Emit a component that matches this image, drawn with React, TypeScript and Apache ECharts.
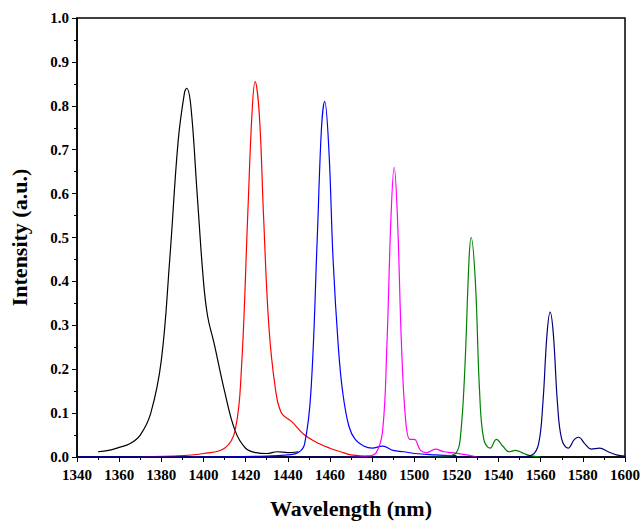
import { useEffect, useRef } from "react";
import * as echarts from "echarts";

const black = [[1350,0.012],[1355,0.015],[1360,0.022],[1365,0.03],[1370,0.05],[1375,0.1],[1380,0.22],[1384,0.45],[1388,0.72],[1391,0.83],[1392,0.84],[1394,0.8],[1397,0.6],[1400,0.4],[1402,0.32],[1405,0.26],[1410,0.15],[1415,0.06],[1420,0.02],[1425,0.01],[1430,0.008],[1435,0.012],[1440,0.01],[1445,0.012]];
const red = [[1370,0],[1390,0.003],[1400,0.008],[1410,0.02],[1415,0.06],[1418,0.2],[1421,0.55],[1423,0.78],[1424.5,0.855],[1426.5,0.78],[1428.5,0.55],[1431,0.3],[1434,0.16],[1437,0.1],[1442,0.08],[1448,0.05],[1455,0.03],[1460,0.02],[1465,0.012],[1470,0.005],[1480,0.002]];
const blue = [[1340,0],[1400,0],[1430,0.002],[1440,0.005],[1445,0.01],[1448,0.03],[1451,0.15],[1454,0.5],[1456,0.75],[1457.5,0.81],[1459.5,0.7],[1461.5,0.45],[1464,0.25],[1466,0.15],[1469,0.07],[1472,0.04],[1476,0.025],[1480,0.02],[1485,0.025],[1490,0.015],[1495,0.012],[1500,0.008],[1510,0.005],[1520,0.003]];
const magenta = [[1470,0],[1478,0.002],[1482,0.01],[1485,0.06],[1487,0.25],[1489,0.55],[1490.5,0.66],[1492,0.55],[1494,0.25],[1496,0.08],[1498,0.04],[1500,0.04],[1503,0.015],[1506,0.01],[1510,0.018],[1514,0.012],[1518,0.01],[1525,0.005],[1530,0]];
const green = [[1505,0],[1515,0.002],[1520,0.01],[1522,0.05],[1524,0.2],[1526,0.45],[1527,0.5],[1529,0.4],[1531,0.15],[1533,0.04],[1536,0.02],[1539,0.04],[1542,0.025],[1545,0.012],[1548,0.015],[1552,0.008],[1555,0.003],[1560,0]];
const navy = [[1340,0],[1550,0],[1556,0.005],[1559,0.03],[1561,0.12],[1563,0.28],[1564.5,0.33],[1566,0.28],[1568,0.12],[1570,0.04],[1573,0.02],[1576,0.04],[1578,0.045],[1581,0.03],[1584,0.018],[1588,0.02],[1592,0.012],[1596,0.005],[1600,0.002]];

const curves = [
  { data: black, color: "#000000" },
  { data: red, color: "#ff0000" },
  { data: blue, color: "#0000ff" },
  { data: magenta, color: "#ff00ff" },
  { data: green, color: "#008000" },
  { data: navy, color: "#000080" },
];

const font = "'Liberation Serif', 'Times New Roman', serif";

export default function App() {
  const chartRef = useRef<HTMLDivElement>(null);

  useEffect(() => {
    document.body.style.margin = "0";
    if (!chartRef.current) return;
    const chart = echarts.init(chartRef.current, undefined, { renderer: "svg" });
    const label = { color: "#000", fontFamily: font, fontWeight: "bold", fontSize: 15 };
    const line = { show: true, onZero: false, lineStyle: { color: "#000", width: 1.5 } };
    chart.setOption({
      animation: false,
      grid: { left: 73, right: 19, top: 18, bottom: 67, show: true, borderColor: "#000", borderWidth: 1.5 },
      xAxis: {
        type: "value", min: 1340, max: 1600, interval: 20,
        name: "Wavelength (nm)", nameLocation: "middle", nameGap: 40,
        nameTextStyle: { ...label, fontSize: 22 },
        axisLine: line, axisTick: { lineStyle: { color: "#000" }, length: 5 },
        minorTick: { show: true, splitNumber: 2, length: 3, lineStyle: { color: "#000" } },
        axisLabel: { ...label, margin: 10, formatter: (v: number) => String(v) },
        splitLine: { show: false },
      },
      yAxis: {
        type: "value", min: 0, max: 1, interval: 0.1,
        name: "Intensity (a.u.)", nameLocation: "middle", nameGap: 47,
        nameTextStyle: { ...label, fontSize: 22 },
        axisLine: line, axisTick: { lineStyle: { color: "#000" }, length: 5 },
        minorTick: { show: true, splitNumber: 2, length: 3, lineStyle: { color: "#000" } },
        axisLabel: { ...label, formatter: (v: number) => v.toFixed(1) },
        splitLine: { show: false },
      },
      series: curves.map((c) => ({
        type: "line", data: c.data, smooth: 0.4, showSymbol: false,
        lineStyle: { color: c.color, width: 1.2 },
      })),
    });
    return () => chart.dispose();
  }, []);

  return <div ref={chartRef} style={{ width: 644, height: 524 }} />;
}
